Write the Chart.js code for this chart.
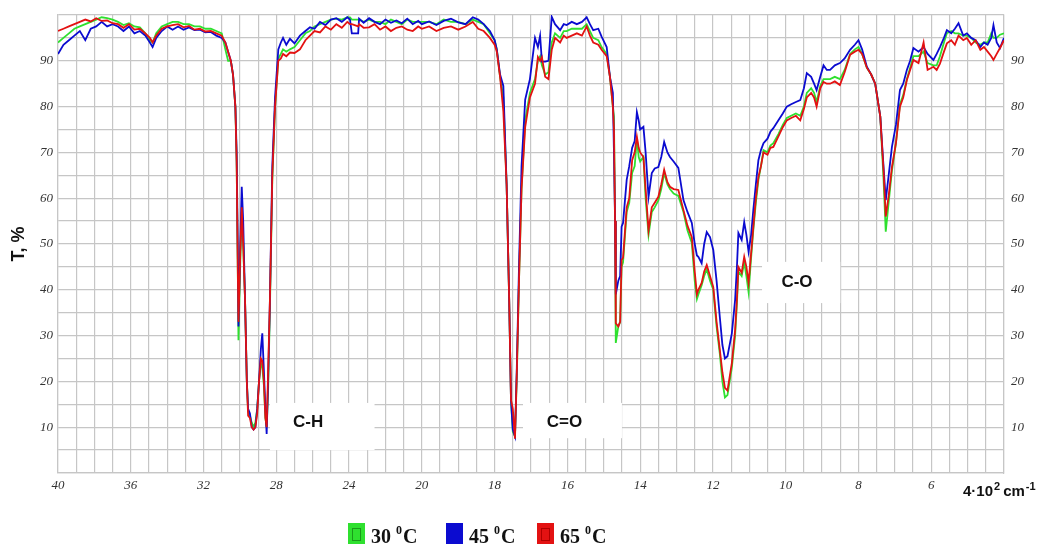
<!DOCTYPE html>
<html>
<head>
<meta charset="utf-8">
<script src="https://cdn.jsdelivr.net/npm/chart.js@4.4.1/dist/chart.umd.min.js"></script>
<style>
  html, body { margin: 0; padding: 0; background: #ffffff; }
  #wrap { width: 1041px; height: 544px; position: relative; }
</style>
</head>
<body>
<div id="wrap"><canvas id="c"></canvas></div>
<script>
// Wavenumber in units of 10^2 cm^-1 (axis labels), transmittance T in %
const wavenumber = [
  40, 39.7, 39.4, 39.1, 38.8, 38.5, 38.2, 37.9, 37.6, 37.3, 37.0, 36.7, 36.4, 36.1, 35.8, 35.5, 35.2, 34.95, 34.8, 34.6,
  34.3, 34.0, 33.7, 33.4, 33.1, 32.8, 32.5, 32.2, 31.9, 31.6, 31.3, 31.0,
  30.8, 30.65, 30.5, 30.38, 30.25, 30.18, 30.12, 30.08, 29.98, 29.9, 29.82, 29.72, 29.62, 29.55, 29.45, 29.35, 29.25, 29.15,
  29.05, 28.95, 28.85, 28.77, 28.68, 28.6, 28.53, 28.45, 28.35, 28.22, 28.07, 27.89, 27.75, 27.63, 27.45, 27.25, 27.0, 26.7,
  26.4, 26.15, 25.9, 25.6, 25.3, 25.0, 24.7, 24.4, 24.1, 23.95, 23.85, 23.5, 23.45, 23.2, 22.9, 22.6, 22.3, 22.0, 21.7, 21.4,
  21.1, 20.8, 20.5, 20.2, 20.0, 19.8, 19.6, 19.4, 19.2, 19.0, 18.8, 18.6, 18.45, 18.3, 18.13, 18.0, 17.94, 17.85, 17.76, 17.67,
  17.6, 17.55, 17.5, 17.44, 17.39, 17.33, 17.26, 17.16, 17.03, 16.89, 16.81, 16.75, 16.7, 16.61, 16.52, 16.43, 16.34, 16.2,
  16.1, 16.02, 15.88, 15.74, 15.6, 15.47, 15.38, 15.29, 15.15, 15.06, 14.92, 14.83, 14.75, 14.72, 14.69, 14.67, 14.6, 14.55,
  14.51, 14.47, 14.37, 14.3, 14.22, 14.15, 14.09, 14.04, 14.0, 13.91, 13.85, 13.77, 13.68, 13.6, 13.5, 13.42, 13.34, 13.25,
  13.18, 13.08, 12.95, 12.81, 12.7, 12.58, 12.5, 12.44, 12.4, 12.31, 12.24, 12.17, 12.08, 11.99, 11.9, 11.81, 11.74, 11.67,
  11.6, 11.48, 11.39, 11.34, 11.3, 11.21, 11.14, 11.08, 11.02, 10.95, 10.89, 10.82, 10.75, 10.68, 10.61, 10.5, 10.42, 10.34,
  10.2, 10.08, 9.97, 9.85, 9.72, 9.6, 9.5, 9.42, 9.3, 9.22, 9.15, 9.05, 8.96, 8.87, 8.78, 8.65, 8.51, 8.38, 8.23, 8.1, 8.0,
  7.9, 7.77, 7.65, 7.54, 7.4, 7.31, 7.25, 7.17, 7.08, 6.97, 6.86, 6.77, 6.67, 6.58, 6.49, 6.35, 6.21, 6.1, 5.94, 5.85, 5.76,
  5.65, 5.57, 5.45, 5.35, 5.25, 5.12, 5.02, 4.9, 4.78, 4.65, 4.55, 4.45, 4.35, 4.29, 4.2, 4.11, 4.0
];

const t45 = [
  91.5, 93.5, 94.5, 95.5, 96.5, 94.5, 97, 97.5, 98.5, 97.5, 98, 97.5, 96.5, 97.5, 96, 96.5, 95.5, 94, 93, 95,
  96.5, 97.5, 96.8, 97.5, 96.8, 97.3, 96.7, 96.8, 96.2, 96.3, 95.5, 95,
  94, 92, 90, 87, 80, 70, 50, 32, 50, 62.5, 55, 38, 20, 14, 13, 10, 9.5, 10,
  14, 20, 27, 30.5, 22, 14, 8.5, 20, 38, 67, 82, 92.5, 94, 95, 93.5, 94.8, 93.8, 95.5,
  96.5, 97.3, 97, 98.5, 97.8, 99, 99.3, 98.5, 99.5, 99, 96, 96, 99.2, 98.3, 99.3, 98.5, 98, 99, 98.3, 98.8,
  98.2, 99.2, 98, 98.7, 98, 98.6, 97.8, 98.7, 99.2, 98.4, 98, 99.5, 99, 98, 96.5, 94.5, 92.5, 87, 84.5, 63,
  38, 16, 9.5, 8, 23, 45, 67, 81.5, 86, 95, 93, 95.5, 89.8, 89.8, 90, 99.6, 98, 96.7,
  98, 97.8, 98.5, 98, 98.5, 99.5, 98, 96.7, 97, 95.3, 93, 86.5, 83, 70, 55, 39, 42, 43,
  53.8, 54.6, 64, 67, 71, 72.5, 78.8, 77, 75, 75.6, 70, 60.3, 65.5, 66.5, 66.8, 69, 72.3, 70,
  69, 68, 66.6, 59.6, 57, 54.6, 50, 47.5, 47.2, 45.8, 50, 52.6, 51.5, 48.7, 42, 34, 28, 25,
  25.5, 30.5, 37.8, 45, 52.4, 50.9, 54.8, 52, 48.3, 52, 57.4, 63, 68.3, 70.5, 72, 73, 74.5, 75.3,
  77, 78.5, 80, 80.5, 81, 81.4, 84, 87.3, 86.5, 85, 83.6, 86.5, 89, 88, 88, 89, 89.5, 90.5, 92.4, 93.5, 94.5,
  92.5, 88.7, 87, 85, 77.8, 66.8, 59.6, 65, 71.2, 76, 83.6, 85, 88, 90, 92.8, 92, 93, 91.5, 90.2, 91.5, 93,
  95, 96.7, 96, 97, 98.2, 95.5, 96, 95, 94.5, 93, 94, 93.5, 95, 97.8, 94, 92.8, 95
];

const t65 = [
  96.5, 97, 97.5, 98, 98.5, 99, 98.6, 99.3, 98.7, 98.8, 98.2, 98, 97.2, 98, 96.8, 97, 96, 95, 94, 95.5,
  97, 97.5, 97.8, 98, 97.3, 97.6, 96.8, 97, 96.4, 96.5, 96, 95.5,
  94, 92, 90, 87, 80, 68, 45, 33, 48, 58, 50, 38, 20, 12.5, 12, 10, 9.5, 10,
  13, 20, 25, 24.5, 20, 12, 10, 22, 38, 65, 80, 90, 90.5, 91.5, 91, 91.8, 91.7, 92.5,
  94.5, 95.5, 96.5, 96.2, 97.5, 96.8, 98, 97.2, 98.5, 98, 98, 97.5, 98, 97.2, 97.3, 98, 96.8, 97.5, 96.5, 97.2,
  97.5, 96.8, 96.5, 97.5, 97, 97.5, 96.5, 97.2, 97.5, 96.8, 97.5, 98.5, 97, 96.5, 95, 93.5, 92, 86.5, 79, 63,
  38, 16, 14, 7.5, 22, 42, 62, 75.5, 82, 85, 90.8, 90, 90.8, 86.5, 86, 92.4, 95, 94,
  95.5, 95, 95.5, 96, 95.5, 97.5, 95.5, 94, 93.5, 92.4, 91, 86.5, 80, 75, 55, 32.7, 32, 33,
  46.5, 47, 58, 60, 68.3, 70, 73.4, 71, 70, 69, 62, 53, 58, 59, 60.3, 63, 66.2, 63.5,
  62.5, 62, 61.8, 57.4, 54, 51.5, 44, 39, 40, 41.5, 44, 45.4, 43, 40.6, 33, 26.9, 22, 18.6,
  18, 24, 31.2, 38, 45, 43.7, 47.2, 45, 41.5, 48, 53.7, 60, 64.6, 67, 70, 69.5, 71, 71.2,
  73.5, 75.5, 77, 77.5, 78, 77, 79.5, 82, 83, 82, 80, 84, 85.4, 85, 85, 85.5, 84.7, 87.5, 91.3, 92, 92.4,
  91.5, 88.5, 87, 85, 77.8, 66, 56, 60.5, 66.8, 72, 80, 82, 85.8, 88, 90.2, 89.5, 94, 88, 88.7, 88, 89.4,
  92, 93.8, 94.5, 93.5, 95.5, 94.5, 95, 93.5, 94.5, 92.4, 93, 92, 91, 90.2, 91.5, 92.8, 94.5
];

const t30 = [
  94, 95, 96, 97, 97.5, 98, 98.5, 99, 99.5, 99.3, 99, 98.5, 97.8, 98.2, 97.5, 97.3, 96, 94.5, 94, 96,
  97.5, 98, 98.5, 98.5, 98, 98, 97.5, 97.5, 97, 97, 96.5, 96,
  92.5, 90, 90, 87, 80, 68, 45, 29, 46, 57, 50, 38, 20, 13.5, 12.5, 11, 10, 11,
  14, 20, 24, 23, 19, 12, 10, 18, 36, 64, 80, 90.5, 91.5, 92.5, 92, 92.5, 93, 94.5,
  96, 96.5, 97.5, 98, 98.5, 99, 99.2, 99, 99.5, 99.5, 99, 99, 99, 98.5, 99, 98.5, 98.5, 98, 99, 98.5,
  98, 99, 98.5, 98.5, 98.5, 98.5, 98, 99, 98.5, 98.5, 98, 99, 98.5, 98, 96, 94.5, 92.5, 86.5, 82, 63,
  38, 16, 9, 8, 21, 42, 62, 77, 83, 86, 90, 91, 89, 87, 87.5, 94, 96, 95,
  96.5, 96.5, 97, 97, 97, 98, 96.5, 95, 94.5, 93, 91.5, 86.5, 80, 77.8, 55, 28.4, 32, 33,
  45, 46, 57, 59, 65.5, 67, 73, 69, 68, 69, 60, 52, 57, 58, 59.5, 62, 65.5, 63,
  62, 61, 60.5, 57, 53, 50.2, 42, 38, 39, 41, 43, 44.5, 42, 40, 32, 26, 20, 16.5,
  17, 23, 30, 37, 44, 43, 46, 43, 39.5, 47, 53, 59, 64, 67, 70.5, 70, 71.5, 72,
  74, 76, 77.5, 78, 78.5, 78, 80, 83, 84, 83, 81, 84.5, 86, 86, 86, 86.5, 86, 88, 91.5, 92.5, 93,
  91.5, 88.5, 87, 85, 77.8, 64, 52.7, 59, 66, 72, 80.5, 82.5, 86, 88.5, 91, 91, 92, 89.5, 89, 89, 91,
  94, 96, 96.5, 96, 96, 95.5, 95.5, 95, 94, 93.5, 94, 94, 96, 95, 95, 95.7, 96
];

const seriesNames = ['30 \u2070C', '45 \u2070C', '65 \u2070C'];
const xTickLabels = [40, 36, 32, 28, 24, 20, 18, 16, 14, 12, 10, 8, 6];
const yTickLabels = [10, 20, 30, 40, 50, 60, 70, 80, 90];
const bandLabels = ['C-H', 'C=O', 'C-O'];
// band label boxes in data units: [xFrom, xTo, yFrom, yTo, xText, yText]
const bandBoxes = [
  [28.35, 22.6, 5.0, 15.3, 26.25, 11.1],
  [17.22, 14.5, 7.6, 15.3, 16.08, 11.1],
  [10.65, 8.5, 37.1, 46.1, 9.69, 41.7]
];

// piecewise wavenumber axis: scale doubles below 2000 cm^-1
const vToU = v => v >= 20 ? 40 - v : 20 + 2 * (20 - v);
const uToV = u => u <= 20 ? 40 - u : 20 - (u - 20) / 2;
const U_MAX = 52;

class SplitScale extends Chart.LinearScale {
  buildTicks() {
    const ticks = [];
    for (let u = 0; u <= U_MAX; u++) ticks.push({ value: uToV(u) });
    return ticks;
  }
  getPixelForValue(value) {
    if (value === null || value === undefined || isNaN(value)) return NaN;
    return this.getPixelForDecimal(vToU(value) / U_MAX);
  }
  getValueForPixel(pixel) {
    return uToV(this.getDecimalForPixel(pixel) * U_MAX);
  }
}
SplitScale.id = 'split';
SplitScale.defaults = Chart.LinearScale.defaults;
Chart.register(SplitScale);

const GREEN = '#2fe02f', BLUE = '#0b0bd0', RED = '#e31212';
const GRID = '#c6c6c6';
const tickFont = { family: '"Liberation Serif", "DejaVu Serif", serif', style: 'italic', size: 13 };

const mk = arr => wavenumber.map((x, i) => ({ x: x, y: arr[i] }));

const bandPlugin = {
  id: 'bands',
  beforeDatasetsDraw(chart) {
    const { ctx, scales: { x, y } } = chart;
    ctx.save();
    bandBoxes.forEach((b, i) => {
      const x1 = x.getPixelForValue(b[0]), x2 = x.getPixelForValue(b[1]);
      const y1 = y.getPixelForValue(b[3]), y2 = y.getPixelForValue(b[2]);
      ctx.fillStyle = '#ffffff';
      ctx.fillRect(x1, y1, x2 - x1, y2 - y1);
      ctx.fillStyle = '#111111';
      ctx.font = 'bold 17px "Liberation Sans", Arial, sans-serif';
      ctx.textAlign = 'center';
      ctx.textBaseline = 'middle';
      ctx.fillText(bandLabels[i], x.getPixelForValue(b[4]), y.getPixelForValue(b[5]));
    });
    ctx.restore();
  },
  afterDraw(chart) {
    const { ctx } = chart;
    ctx.save();
    // x axis unit label
    ctx.fillStyle = '#111111';
    ctx.textBaseline = 'alphabetic';
    ctx.textAlign = 'left';
    const big = 'bold 15px "Liberation Sans", Arial, sans-serif';
    const sml = 'bold 11px "Liberation Sans", Arial, sans-serif';
    let px = 963, base = 496;
    ctx.font = big; ctx.fillText('4\u00b710', px, base); px += ctx.measureText('4\u00b710').width + 1;
    ctx.font = sml; ctx.fillText('2', px, base - 6); px += ctx.measureText('2').width + 3;
    ctx.font = big; ctx.fillText('cm', px, base); px += ctx.measureText('cm').width + 1;
    ctx.font = sml; ctx.fillText('-1', px, base - 6);

    // legend
    const colors = [GREEN, BLUE, RED];
    const inner = ['#1a9a1a', null, '#b00000'];
    const boxX = [348, 446, 537];
    const lb = 543;
    seriesNames.forEach((name, i) => {
      const bx = boxX[i];
      ctx.fillStyle = colors[i];
      ctx.fillRect(bx, 523, 17, 24);
      if (inner[i]) {
        ctx.strokeStyle = inner[i];
        ctx.lineWidth = 1;
        ctx.strokeRect(bx + 4.5, 528.5, 8, 12);
      }
      const parts = name.split(' \u2070');
      let tx = bx + 23;
      ctx.fillStyle = '#111111';
      ctx.font = 'bold 20px "Liberation Serif", "Times New Roman", serif';
      ctx.fillText(parts[0] + ' ', tx, lb);
      tx += ctx.measureText(parts[0] + ' ').width;
      ctx.font = 'bold 12px "Liberation Serif", "Times New Roman", serif';
      ctx.fillText('0', tx, lb - 9);
      tx += ctx.measureText('0').width + 1;
      ctx.font = 'bold 20px "Liberation Serif", "Times New Roman", serif';
      ctx.fillText(parts[1], tx, lb);
    });
    ctx.restore();
  }
};

const yTickCb = v => yTickLabels.includes(v) ? String(v) : '';

new Chart(document.getElementById('c'), {
  type: 'line',
  data: {
    datasets: [
      { label: seriesNames[0], data: mk(t30), borderColor: GREEN, order: 3 },
      { label: seriesNames[1], data: mk(t45), borderColor: BLUE, order: 2 },
      { label: seriesNames[2], data: mk(t65), borderColor: RED, order: 1 }
    ]
  },
  options: {
    responsive: true,
    maintainAspectRatio: false,
    animation: false,
    parsing: true,
    layout: { padding: { top: 15, left: 0, right: 0, bottom: 0 } },
    elements: {
      line: { borderWidth: 1.8, tension: 0, fill: false },
      point: { radius: 0, hoverRadius: 0 }
    },
    plugins: { legend: { display: false }, tooltip: { enabled: false } },
    scales: {
      x: {
        type: 'split',
        position: 'bottom',
        min: 4, max: 40,
        afterFit(s) { s.height = 71; },
        grid: { color: GRID, lineWidth: 1.2, drawTicks: false },
        border: { display: true, color: GRID, width: 1.2 },
        ticks: {
          autoSkip: false, maxRotation: 0, minRotation: 0, padding: 5,
          font: tickFont, color: '#333333',
          callback(value) {
            const u = vToU(value);
            return xTickLabels.includes(value) && u < U_MAX ? String(value) : '';
          }
        }
      },
      y: {
        position: 'left',
        min: 0, max: 100,
        afterFit(s) { s.width = 58; },
        grid: { color: GRID, lineWidth: 1.2, drawTicks: false },
        border: { display: true, color: GRID, width: 1.2 },
        ticks: { stepSize: 5, autoSkip: false, padding: 5, font: tickFont, color: '#333333', callback: yTickCb },
        title: {
          display: true, text: 'T, %', color: '#111111', padding: { top: 8, bottom: 0 },
          font: { family: '"Liberation Sans", Arial, sans-serif', weight: 'bold', size: 18 }
        }
      },
      y2: {
        position: 'right',
        min: 0, max: 100,
        afterFit(s) { s.width = 37; },
        grid: { display: false, drawTicks: false },
        border: { display: true, color: GRID, width: 1.2 },
        ticks: { stepSize: 5, autoSkip: false, padding: 7, font: tickFont, color: '#333333', callback: yTickCb }
      }
    }
  },
  plugins: [bandPlugin]
});
</script>
</body>
</html>
